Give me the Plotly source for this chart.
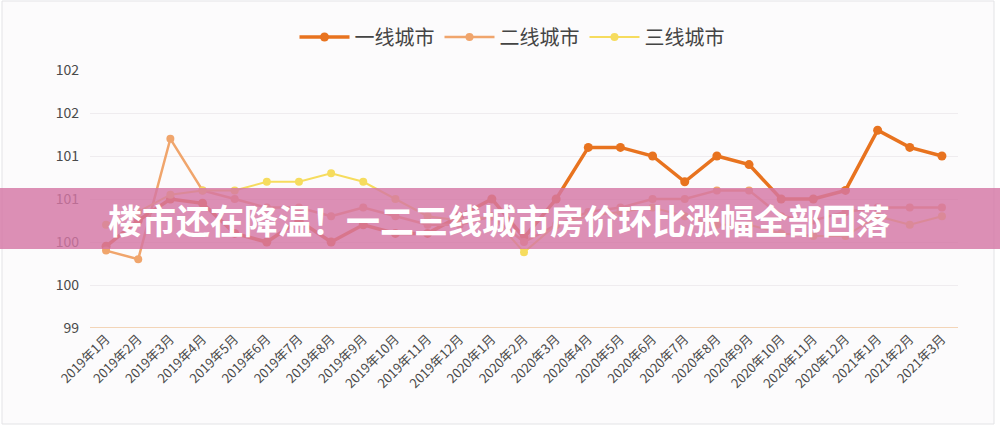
import plotly.graph_objects as go

months = ["2019年1月", "2019年2月", "2019年3月", "2019年4月", "2019年5月", "2019年6月",
          "2019年7月", "2019年8月", "2019年9月", "2019年10月", "2019年11月", "2019年12月",
          "2020年1月", "2020年2月", "2020年3月", "2020年4月", "2020年5月", "2020年6月",
          "2020年7月", "2020年8月", "2020年9月", "2020年10月", "2020年11月", "2020年12月",
          "2021年1月", "2021年2月", "2021年3月"]

tier1 = [99.95, 100.25, 100.5, 100.45, 100.1, 100.0, 100.25, 100.0, 100.2, 100.1, 100.1, 100.3,
         100.5, 100.05, 100.5, 101.1, 101.1, 101.0, 100.7, 101.0, 100.9, 100.5, 100.5, 100.6,
         101.3, 101.1, 101.0]
tier2 = [99.9, 99.8, 101.2, 100.6, 100.5, 100.4, 100.4, 100.3, 100.4, 100.3, 100.2, 100.2,
         100.3, 100.0, 100.2, 100.35, 100.4, 100.5, 100.5, 100.6, 100.6, 100.3, 100.25, 100.35,
         100.4, 100.4, 100.4]
tier3 = [100.2, 100.35, 100.55, 100.6, 100.6, 100.7, 100.7, 100.8, 100.7, 100.5, 100.3, 100.25,
         100.3, 99.88, 100.2, 100.3, 100.35, 100.4, 100.3, 100.2, 100.2, 100.1, 100.07, 100.07,
         100.3, 100.2, 100.3]

series_names = ["一线城市", "二线城市", "三线城市"]
y_tickvals = [99, 99.5, 100, 100.5, 101, 101.5, 102]
y_ticktext = ["99", "100", "100", "101", "101", "102", "102"]
title_text = "楼市还在降温！一二三线城市房价环比涨幅全部回落"

colors = ["#e8731f", "#f0a56c", "#f6dc5e"]
widths = [3.5, 2.5, 2]
msizes = [9, 8, 8]

W, H = 1000, 438
L, R, T, B = 90, 42, 70, 110
pw, ph = W - L - R, H - T - B

def px(x):
    return (x - L) / pw

def py(y):
    return (H - B - y) / ph

fig = go.Figure()
for name, vals, c, w, ms in zip(series_names, [tier1, tier2, tier3], colors, widths, msizes):
    fig.add_trace(go.Scatter(
        x=months, y=vals, name=name, mode="lines+markers",
        line=dict(color=c, width=w),
        marker=dict(color=c, size=ms, symbol="circle"),
    ))

font_family = "Noto Sans CJK SC, Noto Sans, sans-serif"

fig.update_layout(
    width=W, height=H,
    margin=dict(l=L, r=R, t=T, b=B),
    paper_bgcolor="#ffffff",
    plot_bgcolor="rgba(0,0,0,0)",
    font=dict(family=font_family, color="#444444"),
    showlegend=True,
    legend=dict(
        orientation="h", x=px(512), xanchor="center", y=py(37), yanchor="middle",
        font=dict(size=20, color="#444444", family=font_family),
        bgcolor="rgba(0,0,0,0)", itemwidth=50, tracegroupgap=0,
    ),
    xaxis=dict(
        type="category", range=[-0.5, 26.5], tickangle=-45,
        tickfont=dict(size=13, color="#4a4a4a", family=font_family),
        showgrid=False, showline=False, zeroline=False, ticks="",
    ),
    yaxis=dict(
        range=[99, 102], tickvals=y_tickvals, ticktext=y_ticktext,
        tickfont=dict(size=14, color="#4a4a4a", family=font_family),
        showgrid=True, gridcolor="#efecef", gridwidth=1,
        zeroline=False, showline=False, ticks="", ticklabelstandoff=10,
    ),
    shapes=[
        dict(type="rect", xref="paper", yref="paper", layer="below",
             x0=px(2), x1=px(994), y0=py(424), y1=py(1),
             fillcolor="#fcfbfc", line=dict(color="#e3e3e6", width=1)),
        dict(type="line", xref="paper", yref="y", x0=0, x1=1, y0=99, y1=99,
             line=dict(color="#f0c9a2", width=1.5), layer="below"),
        dict(type="rect", xref="paper", yref="paper", layer="above",
             x0=px(0), x1=px(1000), y0=py(249), y1=py(188),
             fillcolor="rgba(212,118,165,0.82)", line=dict(width=0)),
    ],
    annotations=[
        dict(text="<b>" + title_text + "</b>", xref="paper", yref="paper",
             x=px(499), y=py(220), xanchor="center", yanchor="middle",
             showarrow=False,
             font=dict(size=34, color="#ffffff", family="Noto Sans CJK SC, sans-serif")),
    ],
)

fig.write_html("out.html")
